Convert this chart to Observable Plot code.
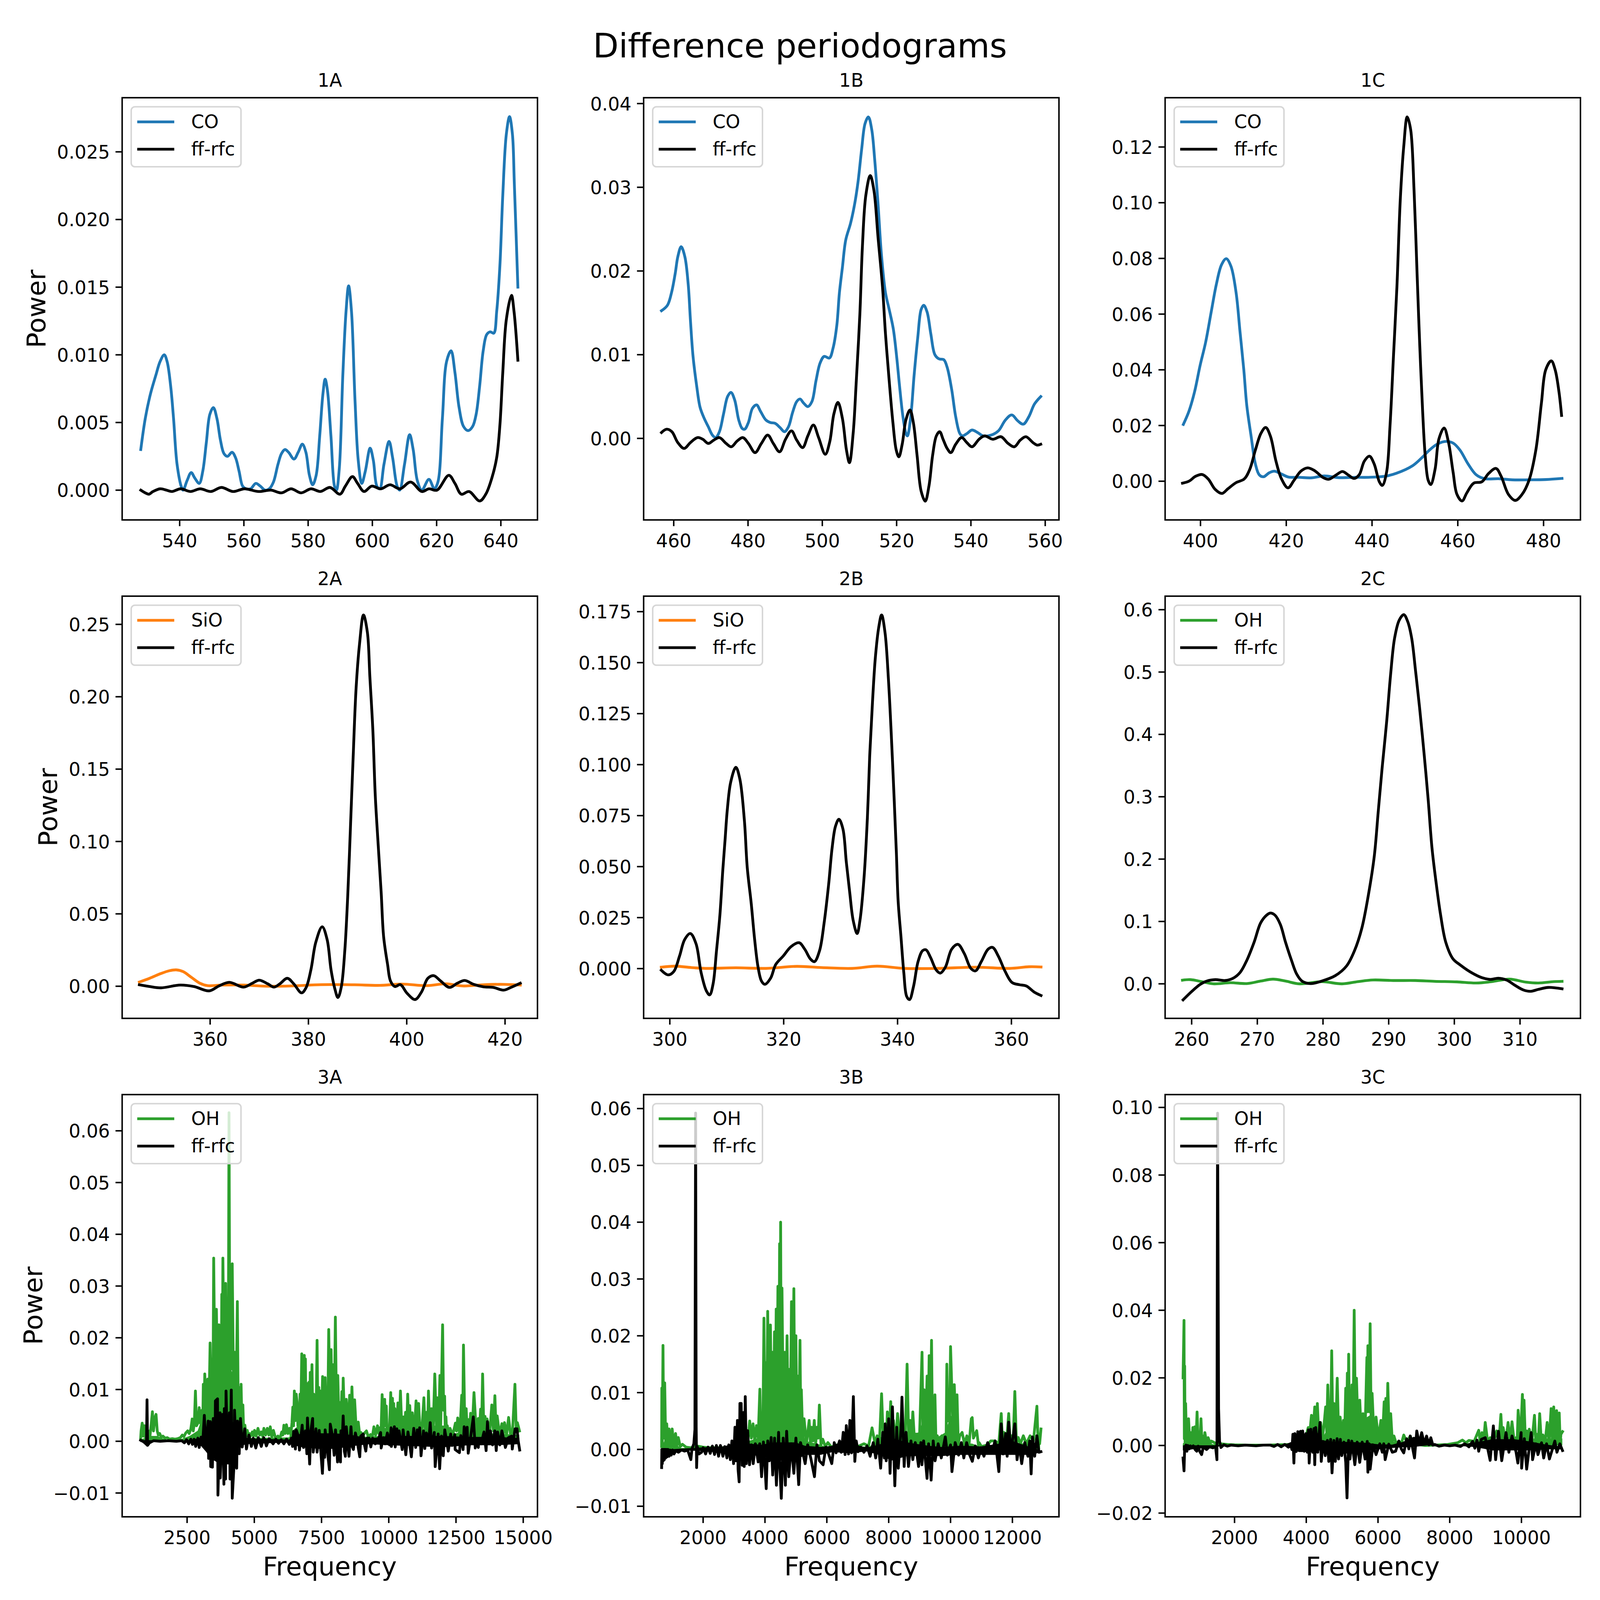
<!DOCTYPE html>
<html><head><meta charset="utf-8">
<script src="https://cdn.jsdelivr.net/npm/d3@7"></script>
<script src="https://cdn.jsdelivr.net/npm/@observablehq/plot@0.6"></script>
<style>
html,body{margin:0;padding:0;background:#fff;overflow:hidden;}
#page{position:relative;background:#fff;overflow:hidden;font-family:"DejaVu Sans";}
#title{position:absolute;left:0;text-align:center;color:#000;white-space:nowrap;}
.cell{position:absolute;}
</style></head><body>
<div id="page"><div id="title">Difference periodograms</div></div>
<script>
const CO="#1f77b4",SIO="#ff7f0e",OH="#2ca02c";

const co1A=[[527.9,.003],[529.3,.0053],[530.9,.0071],[532.6,.0085],[533.9,.0095],[535.2,.01],[536.1,.0095],[537.2,.0077],[538.1,.0053],[539.2,.0019],[540.6,.0002],[541.1,0],[542.3,.0007],[543.6,.0013],[544.7,.0009],[546.1,.0005],[547.2,.0014],[548.3,.0035],[549.4,.0056],[550.5,.0061],[551.6,.0053],[552.7,.0037],[553.8,.0027],[554.9,.0025],[556.3,.0028],[557.4,.0024],[558.5,.0014],[559.6,.0003],[560.7,.0001],[562.1,.0001],[563.7,.0005],[565.1,.0003],[566.6,0],[567.9,.0001],[569.2,.0006],[570.6,.0019],[571.7,.0027],[572.8,.003],[573.9,.0028],[575.6,.0023],[576.9,.0028],[578.2,.0034],[579.3,.0028],[580.4,.0011],[581.4,.0004],[582.5,.0011],[583.6,.004],[584.6,.0071],[585.3,.0082],[586,.0074],[587.1,.004],[588.2,.0003],[588.8,0],[589.7,.0016],[590.8,.0085],[591.8,.0132],[592.6,.0151],[593.5,.0132],[594.6,.0066],[595.6,.0022],[596.7,.0005],[597.8,.0014],[599.3,.0031],[600.3,.0022],[601.4,.0003],[602.3,.0001],[603.6,.0019],[605.2,.0036],[606.3,.0024],[607.7,.0003],[608.5,0],[610,.0019],[611.6,.0041],[612.7,.003],[614,.0007],[615.4,0],[617.6,.0008],[619.3,.0001],[620.4,.0006],[621.8,.0053],[623.1,.0095],[624.5,.0103],[625.7,.0087],[627,.0061],[628.4,.0047],[629.8,.0044],[631.2,.0047],[632.3,.0056],[633.4,.0077],[634.5,.0103],[635.6,.0115],[636.7,.0117],[637.8,.0116],[638.7,.0132],[639.7,.0166],[640.6,.0218],[641.7,.0263],[642.7,.0276],[643.6,.0263],[644.2,.0226],[645.3,.015]];
const ff1A=[[527.9,0],[529.3,-.0002],[530.4,-.0003],[531.7,-.0001],[533.9,.0001],[535.9,0],[537.6,-.0001],[540.3,.0001],[543.4,-.0001],[546.4,.0001],[549.7,-.0001],[553,.0002],[556.6,-.0001],[560.2,.0001],[564.6,-.0001],[568.4,0],[571.7,-.0002],[574.7,.0001],[577.8,-.0002],[580.9,.0001],[583.8,-.0001],[586.8,.0002],[589.9,-.0003],[591.6,.0003],[593.8,.001],[595.4,.0005],[597.4,-.0001],[599.8,.0003],[602.6,.0001],[605.5,.0004],[608.6,.0001],[611.9,.0006],[615.4,-.0001],[617.6,.0001],[620.1,0],[623.8,.0011],[625.7,.0005],[627.7,-.0003],[630.1,-.0001],[633.4,-.0008],[635.3,-.0003],[637.2,.0009],[638.7,.0024],[639.7,.0048],[640.6,.0087],[641.7,.0126],[643.3,.0144],[644.1,.0132],[645.3,.0096]];
const co1B=[[456.7,.01525],[458.3,.0159],[459.4,.0174],[460.4,.0197],[461.1,.0217],[462,.0229],[463,.0217],[463.9,.0184],[464.5,.0141],[465.2,.0098],[466.2,.0062],[467.1,.0037],[468.2,.0024],[469.3,.0014],[470.4,.0004],[471.3,.0001],[472.3,.0008],[473.4,.0029],[474.5,.005],[475.4,.0055],[476.4,.0046],[477.5,.0022],[478.4,.0012],[479.1,.0011],[480.1,.0019],[481.2,.0036],[482.3,.004],[483.4,.0032],[484.8,.0022],[486,.0019],[487.3,.0018],[488.6,.0013],[489.8,.0008],[490.9,.0014],[492,.0031],[493.1,.0044],[494,.0047],[495,.0042],[496.1,.0038],[497.2,.0044],[498.3,.0069],[499.4,.009],[500.5,.0098],[501.9,.0096],[502.9,.0108],[503.9,.0135],[504.6,.0174],[505.4,.0204],[506.3,.0237],[507.6,.0257],[508.7,.028],[509.6,.0306],[510.6,.0346],[511.5,.0376],[512.4,.0384],[513.3,.0369],[514.1,.0333],[515,.028],[515.9,.022],[517,.0174],[518,.0154],[519.1,.0131],[520,.0098],[520.8,.0062],[521.7,.0026],[522.5,.0006],[522.9,.0003],[523.8,.0026],[524.7,.0075],[525.7,.0121],[526.6,.0154],[527.3,.0159],[528.2,.0151],[529.2,.0125],[530.3,.01],[531.4,.0095],[532.7,.0094],[533.6,.0085],[534.8,.0059],[535.9,.0026],[537,.0006],[537.7,.0003],[539,.0006],[540.3,.001],[541.8,.0007],[543.3,.0003],[545.5,.0004],[547.4,.0009],[549.3,.0022],[551,.0028],[552.6,.0021],[554.1,.0017],[555.6,.0026],[557.1,.0041],[558.8,.005]];
const ff1B=[[456.7,.0007],[458.1,.0011],[459.5,.0008],[461.1,-.0005],[462.8,-.0012],[464.5,-.0005],[466.4,.0001],[467.8,-.0001],[469.3,-.0006],[470.8,-.0002],[472.3,.0001],[474.1,-.0006],[475.5,-.001],[477.1,-.0003],[478.6,.0001],[480.1,-.0006],[481.9,-.0017],[483.6,-.0006],[485.3,.0004],[486.8,-.0006],[488.5,-.0016],[490.1,-.0001],[491.7,.0009],[493.1,-.0002],[494.7,-.0011],[496.1,.0003],[497.6,.0016],[499,.0001],[500.8,-.0019],[502,-.0004],[503.1,.0029],[504.2,.0043],[505.4,.0024],[506.5,-.0014],[507.3,-.0029],[508.3,.0006],[509.1,.0065],[510.1,.0148],[510.8,.023],[511.7,.029],[512.9,.0314],[513.9,.0296],[515,.024],[516.2,.0181],[517,.0125],[518,.0069],[519,.0019],[519.9,-.0014],[520.6,-.0022],[521.5,-.0007],[522.5,.0022],[523.6,.0034],[524.5,.0019],[525.5,-.002],[526.6,-.0063],[527.7,-.0075],[528.7,-.0057],[529.7,-.002],[530.7,.0003],[531.6,.0008],[532.5,-.0001],[533.6,-.0012],[534.6,-.0017],[535.9,-.0007],[537.5,.0001],[538.9,-.0005],[540.3,-.001],[542.2,-.0001],[543.7,.0003],[545.9,-.0001],[548.1,.0002],[550,-.0006],[551.7,-.001],[553.3,-.0002],[554.8,.0002],[556.7,-.0005],[557.8,-.0008],[558.8,-.0007]];
const co1C=[[396,.0204],[397.3,.0251],[398.6,.032],[399.9,.0415],[401.2,.0499],[402.5,.0608],[403.7,.0707],[404.9,.0777],[406,.0799],[407.1,.0772],[408.3,.0677],[409.2,.0539],[410.1,.04],[410.8,.0271],[411.8,.0162],[412.8,.0062],[413.7,.0023],[414.7,.0016],[416,.003],[417.2,.0036],[418.6,.0028],[420.5,.0015],[423.1,.0014],[425.7,.0012],[428.9,.0019],[432.1,.0013],[436,.0014],[439.2,.0014],[443.1,.0018],[445.6,.0028],[449.5,.0056],[451.8,.0087],[453.4,.0112],[455.3,.0134],[457.3,.0143],[458.9,.0137],[460.5,.0112],[462.4,.0062],[464.3,.0023],[466.3,.0009],[469.5,.0009],[472.7,.0005],[476.6,.0005],[480.5,.0006],[484.3,.001]];
const ff1C=[[395.8,-.0007],[397.3,0],[398.9,.0018],[400.4,.0024],[401.8,.0008],[403.4,-.0029],[405,-.0044],[406.4,-.0027],[408.3,-.0005],[410.2,.0008],[411.5,.0043],[412.8,.0112],[414.1,.0172],[415.2,.0193],[416.3,.0162],[417.6,.0072],[418.9,.0008],[420.4,-.0024],[421.8,.0003],[423.4,.0036],[425,.0048],[426.6,.0038],[428.6,.0013],[429.9,.0007],[431.5,.0021],[433.1,.0035],[434.4,.0023],[435.8,.001],[437,.0023],[438.2,.0072],[439.4,.009],[440.5,.0062],[441.7,-.0002],[442.4,-.0015],[443.4,.0033],[444.2,.0201],[445,.0449],[445.8,.0697],[446.6,.1015],[447.4,.1203],[448.2,.1308],[449,.1263],[449.8,.1044],[450.5,.0747],[451.1,.0499],[451.8,.0251],[452.4,.0092],[453.1,.0003],[453.7,-.0012],[454.7,.0043],[455.6,.0152],[456.8,.0191],[457.8,.0142],[458.9,.0033],[459.8,-.0047],[461,-.0071],[462.1,-.0042],[463.7,-.0007],[465.6,-.0002],[467.2,.0028],[468.9,.0046],[470.1,.0018],[471.8,-.0047],[473.4,-.0069],[475,-.0047],[476.6,.0003],[478.2,.0112],[479.5,.0281],[480.5,.04],[481.8,.0432],[482.7,.04],[483.6,.032],[484.2,.0236]];
const sio2A=[[345.6,.0029],[347.7,.0055],[350,.0088],[351.7,.0107],[353.1,.0113],[354.5,.0101],[356.2,.0061],[357.9,.0021],[359.5,.0004],[362.4,.0008],[366.9,.0008],[371.4,0],[376.5,.0002],[382.6,.0011],[389.4,.001],[394.5,.0006],[399,.0015],[404.1,.0004],[408,.0017],[411.4,.0002],[415.9,.0011],[419.8,.0013],[423.1,.0008]];
const ff2A=[[345.6,.001],[347.7,-.0002],[350,-.0011],[353.9,.0008],[356.7,-.0002],[359.8,-.0032],[361.8,.0002],[363.9,.0027],[366.8,-.0006],[368.6,.0021],[370,.0042],[371.7,.0017],[373,-.0006],[374.2,.0017],[375.7,.0055],[377,.0017],[378.6,-.0046],[379.5,-.0011],[380.5,.0113],[381.5,.0304],[382.8,.0411],[383.8,.0323],[384.6,.0113],[385.4,-.0021],[386,-.0078],[386.7,-.0002],[387.4,.0246],[388,.0628],[388.6,.1144],[389.1,.1583],[389.7,.2061],[390.4,.2366],[391.2,.2565],[392,.2443],[392.5,.2137],[393.1,.1774],[393.6,.1316],[394.2,.0972],[394.8,.0647],[395.3,.0342],[396.1,.0151],[396.7,.0036],[397.6,-.0002],[398.7,.0011],[400.1,-.005],[401.7,-.0092],[403,-.004],[404.3,.0055],[405.5,.0073],[406.9,.0036],[408.7,-.0008],[410.3,.0021],[411.8,.004],[413.6,.0013],[415.6,-.0004],[417.6,-.0008],[419.7,-.0027],[421.2,-.0008],[423.1,.0021]];
const sio2B=[[298.5,.0007],[300.9,.0012],[303.8,.0005],[306.3,.0001],[311.6,.0004],[316.9,.0001],[322.3,.0011],[326.7,.0005],[332,.0001],[336.4,.0012],[341.2,.0001],[347,.0001],[353.8,.0007],[359.7,.0001],[363.1,.0009],[365.2,.0008]];
const ff2B=[[298.5,-.0008],[299.7,-.0031],[300.7,-.0014],[301.7,.0061],[302.6,.0142],[303.6,.0172],[304.6,.0122],[305.5,-.002],[306.4,-.0108],[307,-.0129],[307.6,-.0075],[308.2,.0088],[308.8,.0264],[309.3,.0481],[309.7,.063],[310.1,.078],[310.7,.0915],[311.6,.0987],[312.3,.0929],[313.1,.0725],[313.6,.0495],[314.3,.0319],[314.9,.0142],[315.5,.0007],[316.1,-.0061],[316.7,-.0077],[317.7,-.0047],[318.6,.002],[319.9,.0061],[321.3,.0108],[322.7,.0127],[323.7,.0095],[324.7,.0047],[325.4,.0034],[326.3,.0088],[327.1,.0224],[327.9,.0414],[328.5,.059],[329.1,.0698],[329.7,.0732],[330.4,.0685],[331,.0522],[331.6,.0373],[332.2,.0237],[332.9,.0172],[333.4,.0237],[334.1,.0441],[334.7,.0739],[335.1,.1037],[335.6,.1308],[336.1,.1525],[336.7,.1674],[337.2,.1734],[337.8,.1647],[338.4,.1417],[338.9,.1146],[339.4,.0834],[339.8,.0563],[340.1,.0332],[340.6,.0156],[341.1,-.002],[341.6,-.0136],[342.1,-.0152],[342.8,-.0088],[343.6,.0034],[344.4,.0088],[345,.0092],[345.8,.0054],[346.8,-.0007],[347.5,-.0022],[348.4,.0007],[349.5,.0095],[350.6,.0119],[351.7,.0075],[352.9,0],[353.7,-.0011],[354.7,.0034],[355.9,.0095],[356.7,.0104],[357.7,.0061],[358.9,-.0014],[360.1,-.0068],[361.4,-.0079],[362.6,-.0085],[364,-.0115],[365.2,-.0132]];
const oh2C=[[258.6,.0058],[259.8,.0067],[261.7,.0031],[263.4,0],[265.9,.0018],[268.4,.0004],[270.5,.0044],[272.4,.0075],[274.3,.0044],[276.4,0],[279.8,.0035],[282.9,0],[285.3,.0035],[287.6,.0062],[290.7,.0053],[294.1,.0053],[297,.004],[300.4,.0031],[303.3,.0013],[305.7,.0035],[308.4,.0075],[310.9,.0027],[312.8,.0013],[315.1,.0035],[316.4,.004]];
const ff2C=[[258.7,-.0257],[260,-.0124],[261.3,-.0009],[262.3,.0044],[263.6,.0067],[265.1,.0053],[266.3,.0089],[267.4,.0186],[268.4,.0377],[269.5,.0665],[270.5,.0976],[271.4,.11],[272,.1135],[272.7,.11],[273.5,.0953],[274.3,.0665],[275.2,.0377],[276,.0155],[276.8,.0044],[278.1,.0004],[279.8,.0044],[281.9,.0133],[283.6,.0288],[284.8,.0532],[285.9,.0887],[286.9,.1419],[287.8,.204],[288.4,.2749],[289,.3459],[289.7,.4213],[290.3,.4967],[290.9,.5543],[291.6,.5831],[292.3,.592],[292.9,.5809],[293.5,.5543],[294.1,.5011],[294.7,.4435],[295.4,.3681],[296,.2971],[296.6,.2173],[297.2,.1641],[297.9,.1109],[298.7,.0665],[299.8,.0399],[300.8,.031],[302.5,.0186],[304.2,.0098],[305.5,.0071],[306.7,.0089],[308,.0058],[309.2,-.0022],[310.5,-.0098],[311.6,-.012],[312.8,-.0089],[314.3,-.0058],[316.4,-.008]];
const oh3A=[[773,.0005],[790,.002],[830,.0035],[870,.001],[910,.003],[950,.0008],[1000,.0005],[1060,.002],[1120,.001],[1170,.0035],[1210,.0057],[1250,.002],[1300,.0045],[1345,.0052],[1390,.002],[1430,.0012],[1480,.0015],[1540,.0008],[1600,.001],[1680,.0006],[1760,.0007],[1850,.0004],[1950,.0005],[2050,.0004],[2150,.0005],[2250,.0007],[2320,.0012],[2380,.0009],[2450,.0016],[2520,.002],[2580,.0015],[2640,.0024],[2690,.0043],[2730,.002],[2770,.0035],[2810,.0097],[2850,.003],[2900,.0035],[2950,.0065],[3000,.0035],[3060,.006],[3080,.002],[3103,.011],[3130,.003],[3157,.013],[3210,.005],[3268,.012],[3310,.005],[3356,.019],[3395,.007],[3426,.0159],[3460,.006],[3489,.0354],[3540,.009],[3590,.0255],[3640,.008],[3685,.0225],[3720,.009],[3749,.0203],[3770,.009],[3790,.0284],[3810,.012],[3831,.0354],[3880,.012],[3932,.0305],[3960,.012],[3989,.0213],[4030,.01],[4059,.0635],[4090,.012],[4116,.0297],[4150,.014],[4179,.0343],[4230,.008],[4274,.0172],[4320,.006],[4369,.027],[4405,.004],[4438,.0104],[4470,.003],[4508,.011],[4545,.002],[4575,.007],[4610,.0008],[4650,.0031],[4695,.001],[4739,.0021],[4780,.0009],[4818,.0015],[4860,.001],[4925,.0018],[4970,.001],[5008,.0021],[5070,.001],[5135,.0025],[5200,.0012],[5261,.0018],[5310,.001],[5356,.0025],[5420,.0012],[5482,.0025],[5540,.0012],[5593,.0028],[5650,.0008],[5710,.0021],[5790,.0006],[5878,.001],[5950,.0005],[6020,.0018],[6060,.0012],[6100,.0031],[6150,.0015],[6195,.0032],[6250,.0015],[6305,.0025],[6360,.0012],[6400,.0036],[6432,.0066],[6460,.003],[6489,.0097],[6525,.004],[6558,.0091],[6590,.0076],[6620,.003],[6653,.0047],[6680,.002],[6700,.0091],[6730,.005],[6764,.0169],[6810,.006],[6859,.0166],[6880,.008],[6900,.0159],[6920,.005],[6938,.0112],[6985,.004],[7033,.0114],[7060,.005],[7080,.0133],[7110,.005],[7144,.0148],[7175,.004],[7207,.0091],[7230,.004],[7254,.0085],[7295,.004],[7334,.0195],[7365,.004],[7397,.0104],[7430,.003],[7460,.0097],[7500,.004],[7539,.0125],[7590,.004],[7634,.0123],[7665,.004],[7697,.0087],[7730,.004],[7767,.0216],[7810,.006],[7856,.0177],[7890,.005],[7919,.0148],[7944,.006],[7980,.008],[8014,.024],[8060,.004],[8104,.0127],[8150,.003],[8194,.0075],[8225,.003],[8255,.0096],[8280,.003],[8305,.0122],[8360,.0027],[8420,.0081],[8480,.002],[8545,.0089],[8590,.003],[8630,.0105],[8680,.0022],[8730,.008],[8800,.0012],[8866,.0037],[8920,.0012],[8970,.0017],[9030,.001],[9100,.0016],[9170,.002],[9240,.0008],[9322,.0013],[9390,.0009],[9447,.0028],[9510,.0012],[9582,.003],[9630,.0015],[9672,.0026],[9710,.0012],[9753,.009],[9800,.002],[9848,.0081],[9880,.003],[9908,.0068],[9940,.0012],[9973,.0027],[10020,.0012],[10073,.0094],[10105,.003],[10138,.0083],[10160,.003],[10183,.0073],[10205,.003],[10224,.0063],[10280,.001],[10339,.0074],[10385,.002],[10434,.0097],[10490,.0015],[10549,.0047],[10590,.002],[10624,.0056],[10660,.0015],[10704,.0091],[10745,.002],[10780,.0069],[10830,.0015],[10875,.0055],[10945,.001],[11015,.0078],[11065,.0015],[11110,.0073],[11170,.0012],[11230,.002],[11306,.0084],[11350,.002],[11400,.0056],[11440,.001],[11476,.0097],[11530,.0012],[11591,.0063],[11650,.002],[11711,.013],[11770,.003],[11800,.0084],[11850,.002],[11902,.0127],[11927,.0017],[12002,.0225],[12040,.006],[12077,.0087],[12100,.002],[12127,.0047],[12150,.002],[12177,.003],[12230,.0013],[12278,.0025],[12380,.0012],[12478,.0035],[12520,.002],[12563,.0045],[12640,.0012],[12713,.0089],[12745,.0017],[12778,.0186],[12830,.002],[12879,.0063],[12915,.002],[12954,.0042],[13000,.002],[13044,.0054],[13100,.002],[13169,.0094],[13260,.0012],[13330,.0044],[13375,.002],[13415,.0062],[13450,.002],[13490,.013],[13535,.002],[13580,.0048],[13620,.0015],[13655,.0043],[13750,.0014],[13831,.007],[13890,.002],[13946,.0088],[13990,.002],[14031,.0049],[14120,.0012],[14206,.0034],[14260,.0015],[14306,.0036],[14380,.0012],[14457,.0046],[14530,.0012],[14600,.0017],[14692,.011],[14740,.002],[14782,.0036],[14860,.002]];
const ff3A=[[773,.0002],[850,0],[930,-.0003],[990,-.0006],[1010,.008],[1030,-.0008],[1100,-.0003],[1250,.0001],[1500,0],[1800,.0001],[2100,0],[2300,.0001],[2400,-.0003],[2480,.0003],[2560,-.0005],[2640,.0004],[2700,-.0006],[2760,.0004],[2820,-.001],[2900,.0006],[2950,-.0012],[3020,.0008],[3080,-.0005],[3141,.005],[3204,-.0015],[3284,.0039],[3300,-.0033],[3363,.0038],[3378,-.0049],[3442,-.005],[3473,.0044],[3537,-.0035],[3553,.0078],[3632,.0082],[3647,-.0104],[3727,.0055],[3733,-.0071],[3821,.0052],[3869,-.0083],[3885,.0063],[3932,-.0073],[3948,.0097],[4010,-.004],[4075,.0055],[4097,-.0073],[4144,.0099],[4179,-.011],[4249,-.0042],[4264,.006],[4344,-.0052],[4375,.0039],[4438,-.0024],[4486,.0044],[4550,-.0011],[4644,.0024],[4707,-.0015],[4800,.0012],[4890,-.001],[4960,.0006],[5055,-.0013],[5150,.0007],[5260,-.001],[5350,.0007],[5450,-.0009],[5550,.0005],[5700,-.0005],[5800,.0004],[5900,-.0004],[6000,.0003],[6100,-.0005],[6200,.0004],[6300,-.0006],[6380,.0006],[6420,-.001],[6464,.0019],[6527,-.0015],[6558,.0022],[6640,.001],[6679,-.0017],[6780,.0031],[6830,-.0012],[6900,.002],[6954,-.0024],[6976,.0045],[7058,-.0044],[7100,.002],[7169,.0044],[7191,-.0021],[7292,.0024],[7334,-.0021],[7413,.0021],[7533,-.0062],[7590,.001],[7618,-.0031],[7634,.0022],[7700,-.001],[7792,-.0055],[7824,.0033],[7900,.0012],[7969,-.0027],[8019,.0022],[8060,-.001],[8094,-.004],[8120,.0012],[8204,-.004],[8220,.002],[8260,-.001],[8305,.0049],[8350,-.002],[8385,-.0029],[8420,.0028],[8480,-.001],[8520,-.0029],[8595,.0028],[8640,-.001],[8685,-.0016],[8760,.0016],[8840,-.0005],[8921,-.003],[8960,.001],[9046,.0014],[9100,-.0008],[9146,-.0019],[9200,.0006],[9270,.0006],[9332,-.0011],[9400,.0006],[9500,-.0005],[9620,.0005],[9697,.0017],[9718,-.0013],[9800,.0007],[9860,-.0005],[9948,.0016],[10030,-.0007],[10088,.0026],[10098,-.001],[10208,.0028],[10240,-.0011],[10299,.0024],[10340,-.0005],[10384,.002],[10499,-.0016],[10534,.0022],[10634,-.0026],[10714,.0018],[10780,-.0005],[10840,-.003],[10930,.0025],[11000,-.0012],[11060,.0022],[11100,-.0005],[11150,.0026],[11200,-.0028],[11291,.002],[11341,-.0014],[11400,.0016],[11480,-.0005],[11541,.0036],[11591,-.0013],[11692,.0017],[11726,-.0049],[11837,.0014],[11892,-.0053],[11960,.001],[12027,-.0028],[12082,.0022],[12213,-.0019],[12303,.0014],[12360,-.0008],[12453,.0013],[12468,-.0016],[12628,-.0022],[12679,.0011],[12764,-.0016],[12804,.0028],[12860,-.0005],[12914,.0027],[12954,-.0023],[13050,.001],[13144,.0047],[13215,-.0013],[13260,.0004],[13330,-.0012],[13355,.0005],[13440,-.0005],[13540,.0018],[13620,-.0018],[13670,.0038],[13720,-.0005],[13781,.002],[13860,-.0007],[13941,.002],[13996,-.0018],[14046,.0018],[14130,-.0007],[14206,.002],[14337,-.0012],[14450,.0007],[14567,.001],[14593,-.0015],[14698,.0024],[14770,.0024],[14810,.0002],[14868,-.0017]];
const oh3B=[[659,.0005],[665,.0108],[680,.001],[703,.0183],[725,.002],[758,.0117],[790,.001],[824,.0045],[860,.001],[901,.0036],[950,.0008],[1000,.0036],[1050,.0008],[1110,.0028],[1150,.0006],[1198,.0021],[1260,.0005],[1330,.0009],[1450,.0004],[1600,.0003],[1800,.0006],[2000,.0004],[2200,.0003],[2500,.0003],[2800,.0003],[3000,.0005],[3200,.001],[3350,.002],[3450,.0015],[3506,.005],[3560,.002],[3615,.0045],[3670,.0015],[3725,.0042],[3780,.002],[3835,.0106],[3860,.003],[3890,.0063],[3930,.002],[3967,.0231],[4000,.003],[4033,.0153],[4060,.004],[4088,.0243],[4130,.004],[4176,.0219],[4210,.005],[4242,.0171],[4275,.005],[4308,.0207],[4335,.006],[4363,.0247],[4390,.007],[4418,.0287],[4450,.008],[4473,.0362],[4490,.01],[4506,.04],[4525,.008],[4550,.0284],[4595,.004],[4638,.0171],[4675,.004],[4714,.02],[4750,.005],[4780,.0141],[4820,.004],[4857,.026],[4890,.006],[4934,.0283],[4965,.005],[5000,.02],[5030,.004],[5066,.0129],[5100,.004],[5132,.0192],[5160,.003],[5176,.0105],[5220,.002],[5264,.0054],[5340,.001],[5429,.0051],[5470,.001],[5506,.0039],[5550,.0015],[5594,.0051],[5640,.001],[5682,.0039],[5720,.002],[5758,.0078],[5810,.0008],[5868,.0018],[5950,.0005],[6033,.0012],[6150,.0004],[6300,.0008],[6500,.0006],[6800,.0008],[7000,.0005],[7200,.001],[7350,.0006],[7462,.0038],[7560,.001],[7627,.0024],[7700,.0012],[7770,.0098],[7830,.001],[7858,.0027],[7920,.001],[7957,.0066],[8010,.002],[8066,.0084],[8110,.001],[8154,.0051],[8220,.001],[8287,.0063],[8370,.001],[8452,.0039],[8530,.001],[8595,.015],[8650,.001],[8694,.0051],[8740,.002],[8780,.0066],[8840,.001],[8890,.0027],[8990,.001],[9078,.0171],[9110,.003],[9144,.0105],[9195,.003],[9242,.0129],[9275,.003],[9308,.0165],[9345,.004],[9385,.0192],[9415,.003],[9440,.0075],[9470,.003],[9495,.0096],[9530,.001],[9572,.0024],[9640,.001],[9715,.0024],[9770,.001],[9825,.0015],[9855,.001],[9880,.015],[9910,.005],[9935,.0051],[9970,.005],[10000,.0181],[10045,.0099],[10080,.004],[10121,.0114],[10165,.004],[10209,.0096],[10250,.001],[10297,.0024],[10373,.003],[10450,.001],[10528,.0024],[10600,.001],[10671,.0054],[10700,.0056],[10740,.002],[10846,.0033],[10900,.0008],[10923,.0012],[11000,.0005],[11198,.0008],[11300,.0015],[11440,.0015],[11560,.001],[11639,.0063],[11680,.001],[11727,.003],[11800,.0005],[11880,.0063],[11930,.001],[11968,.0024],[12020,.0005],[12078,.0102],[12130,.001],[12188,.0021],[12260,.001],[12353,.0024],[12450,.001],[12572,.0024],[12680,.0015],[12792,.0076],[12830,.001],[12850,.0027],[12880,.001],[12923,.0036]];
const ff3B=[[659,-.0032],[665,0],[680,-.0025],[695,0],[710,-.002],[725,0],[745,-.0018],[765,0],[790,-.0015],[810,0],[840,-.0013],[865,0],[900,-.0012],[930,-.0001],[970,-.001],[1010,-.0001],[1060,-.0008],[1120,-.0002],[1200,-.0005],[1300,-.0001],[1400,-.0003],[1500,-.0001],[1604,-.0018],[1640,.0001],[1700,.001],[1735,.0035],[1758,.0592],[1776,.004],[1790,-.0032],[1810,.0005],[1870,-.0008],[1950,-.0005],[2000,.0003],[2080,-.0008],[2160,.0004],[2230,-.0007],[2300,.0006],[2370,-.0009],[2430,.0007],[2500,-.0012],[2560,.0007],[2640,-.0012],[2700,.0005],[2770,-.0015],[2830,.0008],[2880,-.0018],[2930,.0015],[2985,-.0025],[3030,.0039],[3060,-.002],[3110,.0051],[3130,-.0035],[3165,-.0057],[3190,.0081],[3231,.0081],[3265,-.0028],[3305,.0065],[3330,-.003],[3363,.0093],[3400,-.0025],[3440,.0033],[3500,-.0027],[3560,.0008],[3620,-.0025],[3690,.001],[3780,-.0022],[3830,.001],[3890,-.0048],[3950,.0013],[4000,-.003],[4040,-.0069],[4090,.0015],[4140,-.002],[4200,.0021],[4250,-.0045],[4310,.002],[4370,-.0063],[4440,.003],[4480,-.003],[4528,-.0086],[4590,.002],[4660,-.0063],[4700,.0032],[4770,-.0048],[4850,.001],[4934,-.0042],[5000,.002],[5090,-.0062],[5150,.0012],[5300,-.0025],[5380,.0008],[5480,-.0015],[5600,-.0048],[5680,.0008],[5760,-.002],[5880,-.0027],[5970,.0004],[6050,-.0007],[6160,-.0025],[6240,.0012],[6300,-.0006],[6410,.0015],[6470,-.0005],[6530,.003],[6590,-.0009],[6630,.0042],[6700,-.0008],[6745,.0051],[6800,-.0006],[6858,.0093],[6905,-.0021],[6950,.0015],[7010,-.0004],[7100,.0004],[7200,-.0005],[7300,.0006],[7400,-.0012],[7500,.0012],[7580,-.0015],[7650,.0018],[7740,-.0033],[7810,.003],[7860,-.0015],[7890,.0045],[7920,-.002],[8000,.0054],[8044,-.0042],[8121,.0075],[8198,-.0064],[8260,.0039],[8310,-.0033],[8400,.0039],[8429,.0092],[8500,-.003],[8560,.003],[8640,-.003],[8720,.0015],[8780,-.0018],[8860,.0012],[8966,-.003],[9040,.0012],[9075,-.0027],[9130,.0015],[9240,-.0051],[9290,.001],[9372,-.0054],[9440,.0015],[9500,-.002],[9600,.001],[9700,-.0015],[9830,.0022],[9900,-.001],[10000,.0008],[10045,-.0039],[10150,.0012],[10260,-.001],[10350,.0012],[10429,-.0015],[10520,.0012],[10620,-.001],[10704,-.0021],[10800,.0006],[10900,-.0015],[10990,.0002],[11080,-.0012],[11200,.0012],[11330,-.0006],[11440,.0015],[11500,-.001],[11561,-.0039],[11638,.0045],[11700,-.0008],[11780,.0028],[11830,-.0012],[11880,.0048],[11950,-.0005],[12020,.0022],[12078,.0045],[12150,-.0018],[12220,.0008],[12300,-.0025],[12400,.0012],[12500,-.0012],[12560,.0015],[12606,-.0043],[12650,.0022],[12720,-.0012],[12792,.0024],[12860,-.0005],[12923,-.0004]];
const oh3C=[[564,.02],[591,.037],[600,.002],[609,.0235],[620,.001],[636,.0124],[660,.001],[672,.0063],[695,.001],[718,.0079],[750,.001],[782,.0038],[815,.001],[837,.0053],[860,.001],[892,.0055],[925,.001],[955,.0099],[985,.001],[1018,.0028],[1040,.0008],[1064,.0079],[1090,.001],[1118,.0028],[1150,.001],[1173,.0038],[1220,.0008],[1264,.0023],[1320,.0006],[1355,.0013],[1500,.0005],[1600,.0005],[1800,.0003],[2000,.0002],[2400,.0001],[2800,.0001],[3200,.0002],[3500,.0003],[3700,.0006],[3800,.001],[3900,.002],[3963,.0015],[4054,.0053],[4090,.003],[4145,.0089],[4190,.004],[4236,.0114],[4270,.004],[4309,.0124],[4350,.003],[4400,.0068],[4450,.002],[4500,.0067],[4540,.0114],[4570,.004],[4600,.0179],[4640,.004],[4654,.0114],[4680,.004],[4709,.028],[4740,.004],[4773,.0124],[4820,.003],[4863,.0199],[4905,.002],[4945,.0084],[4990,.002],[5036,.0074],[5070,.003],[5100,.0169],[5125,.004],[5145,.0214],[5165,.005],[5182,.027],[5205,.005],[5227,.0154],[5250,.005],[5273,.0179],[5305,.006],[5336,.04],[5370,.006],[5400,.0199],[5445,.004],[5491,.0134],[5535,.003],[5581,.0094],[5640,.004],[5690,.026],[5705,.01],[5718,.0295],[5750,.01],[5781,.036],[5810,.005],[5836,.0154],[5890,.002],[5945,.0084],[6010,.002],[6081,.0074],[6125,.002],[6172,.0129],[6195,.004],[6218,.0139],[6245,.004],[6273,.0184],[6315,.002],[6354,.0094],[6400,.001],[6445,.0028],[6510,.0005],[6581,.0013],[6650,.0005],[6718,.0031],[6800,.001],[6900,.0028],[6970,.0005],[7036,.0018],[7170,.0002],[7309,0],[7581,.0001],[7945,.0003],[8218,.0008],[8354,.0016],[8450,.0008],[8536,.0015],[8680,.0012],[8808,.0045],[8850,.001],[8899,.0038],[8945,.001],[8990,.0068],[9060,.001],[9127,.0023],[9220,.001],[9309,.0043],[9370,.001],[9427,.0092],[9460,.002],[9490,.0053],[9560,.001],[9627,.0068],[9680,.001],[9736,.007],[9800,.001],[9854,.0023],[9880,.001],[9908,.0104],[9970,.001],[10027,.0151],[10050,.002],[10072,.0134],[10110,.001],[10145,.0043],[10180,.001],[10218,.0048],[10290,.001],[10363,.0089],[10400,.001],[10435,.0033],[10470,.001],[10508,.0094],[10555,.001],[10599,.0031],[10660,.001],[10717,.0068],[10770,.001],[10827,.0109],[10860,.002],[10900,.0114],[10940,.001],[10981,.0103],[11020,.001],[11054,.0096],[11080,.0005],[11100,.0033],[11145,.0041]];
const ff3C=[[564,-.0037],[591,-.0075],[609,-.0007],[645,.0001],[673,-.0017],[700,0],[740,-.001],[770,-.0001],[809,-.0007],[850,-.0001],[900,-.0012],[945,-.0017],[985,-.0002],[1030,-.0018],[1082,-.0027],[1130,-.0004],[1218,-.0012],[1300,-.0004],[1400,-.0007],[1470,-.0003],[1509,-.0042],[1527,.0983],[1555,.0109],[1582,.0013],[1620,-.0006],[1700,.0002],[1800,-.0002],[1900,.0001],[2100,-.0001],[2300,.0001],[2600,-.0001],[2800,.0001],[3000,.0001],[3100,-.0003],[3200,.0003],[3300,-.0004],[3400,.0003],[3500,-.0005],[3560,.0005],[3600,-.0012],[3627,.0033],[3655,-.0052],[3680,.0035],[3720,-.0018],[3764,.0041],[3809,-.0012],[3840,.0042],[3870,-.0015],[3900,.0043],[3945,-.0017],[3990,.0035],[4030,-.002],[4060,.0046],[4081,-.0052],[4127,.0048],[4180,-.002],[4215,.005],[4236,-.0057],[4263,.0053],[4320,-.002],[4382,.0068],[4418,-.0047],[4470,.0012],[4530,-.003],[4590,.0015],[4627,-.0047],[4680,.0018],[4718,-.0081],[4770,.0015],[4809,-.0047],[4860,.002],[4900,-.004],[4950,.0018],[4990,-.003],[5050,.001],[5100,-.005],[5136,-.0155],[5180,.0015],[5218,-.004],[5270,.0013],[5354,-.0057],[5420,.001],[5491,-.005],[5560,.001],[5640,-.004],[5700,.0012],[5718,-.0079],[5750,.0005],[5781,-.007],[5860,.0002],[5945,-.0027],[6050,.0005],[6120,-.002],[6160,.0005],[6200,-.0042],[6300,.0004],[6400,-.002],[6491,-.0017],[6581,.0013],[6650,-.001],[6718,-.0022],[6800,.002],[6860,-.001],[6900,.0028],[6960,-.0005],[7018,-.0037],[7081,.0043],[7150,.0005],[7218,.0038],[7290,.0005],[7354,.0028],[7420,.0002],[7472,.0023],[7530,.0001],[7581,.0003],[7700,-.0002],[7850,.0001],[8000,-.0001],[8150,.0001],[8300,-.0003],[8420,.0005],[8536,-.0004],[8640,.0012],[8700,-.0008],[8760,.0016],[8808,-.0017],[8880,.0018],[8990,.0023],[9060,-.001],[9127,-.0044],[9217,.0058],[9280,-.0042],[9360,.0042],[9450,-.0045],[9570,.0038],[9650,-.002],[9736,.0028],[9850,-.002],[9900,-.0052],[9990,.0038],[10005,-.0067],[10080,.002],[10145,-.007],[10272,.0038],[10310,-.0042],[10400,.0005],[10460,-.0027],[10560,.0008],[10620,-.0037],[10700,.0005],[10780,-.004],[10930,.0013],[10990,-.002],[11070,.0005],[11145,-.0015]];

// Solid bodies of the row-3 spectra: x, power the green fill reaches
const ohBody3A=[[773,.0003],[1150,.001],[1400,.001],[1700,.0003],[2300,.0004],[2600,.001],[2900,.002],[3100,.005],[3300,.009],[3450,.014],[3700,.016],[4000,.016],[4200,.013],[4330,.007],[4500,.002],[4650,.0006],[6300,.0007],[6420,.002],[6650,.003],[6760,.006],[7000,.008],[7400,.008],[7900,.009],[8100,.006],[8600,.005],[8800,.002],[9000,.0008],[9700,.001],[9800,.0025],[10500,.0028],[11300,.0022],[11700,.003],[12100,.003],[12300,.0012],[12700,.0018],[13200,.002],[13800,.0015],[14860,.0012]];
const ohBody3B=[[659,.0003],[800,.002],[1000,.0012],[1300,.0002],[3300,.0004],[3500,.0015],[3800,.002],[3950,.006],[4100,.01],[4500,.013],[4900,.012],[5150,.007],[5300,.0015],[5800,.0008],[6000,.0003],[7400,.0005],[7700,.002],[8100,.003],[8600,.0025],[9000,.003],[9150,.006],[9450,.006],[9550,.002],[9850,.003],[10000,.006],[10200,.005],[10300,.001],[10700,.001],[11000,.0004],[11500,.0005],[11700,.0012],[12200,.001],[12900,.0012]];
const ohBody3C=[[564,.0005],[800,.003],[1100,.002],[1400,.0003],[3600,.0002],[4000,.002],[4300,.003],[4500,.003],[4650,.006],[5000,.006],[5200,.009],[5500,.007],[5800,.009],[6000,.004],[6300,.004],[6450,.001],[6800,.0012],[7100,.0006],[7400,.0001],[8400,.0004],[8800,.0012],[9300,.0012],[9800,.002],[10200,.002],[10800,.002],[11145,.002]];
// Solid bodies of the black spectra: x, lower power, upper power
const ffBody3A=[[773,-.0002,.0002],[2300,-.0001,.0001],[2600,-.0004,.0002],[3000,-.0008,.0006],[3200,-.002,.002],[3350,-.003,.0035],[3700,-.0045,.0045],[4100,-.0045,.0045],[4300,-.003,.003],[4500,-.001,.0015],[4700,-.0006,.0005],[5500,-.0004,.0004],[6300,-.0003,.0003],[6450,-.0008,.001],[6800,-.0012,.0015],[7400,-.0015,.0015],[8000,-.0015,.0015],[8600,-.001,.0012],[9300,-.0006,.0005],[10000,-.0008,.001],[11000,-.001,.001],[12000,-.0012,.001],[13000,-.0008,.0008],[14000,-.0008,.0008],[14860,-.0006,.0006]];
const ffBody3B=[[659,-.0012,0],[1000,-.0006,0],[1300,-.0002,.0001],[1900,-.0003,.0003],[2700,-.0006,.0005],[2950,-.001,.001],[3100,-.002,.003],[3300,-.002,.004],[3450,-.001,.001],[3900,-.0012,.0008],[4300,-.002,.0012],[5000,-.002,.0012],[5300,-.001,.0006],[5800,-.001,.0004],[6200,-.0005,.0006],[6700,-.0007,.002],[6900,-.0006,.0008],[7300,-.0004,.0003],[7700,-.001,.0008],[8100,-.002,.002],[8600,-.0012,.0012],[9300,-.0012,.0006],[9700,-.0012,.0004],[10300,-.001,.0006],[11000,-.001,.0005],[11600,-.001,.001],[12000,-.001,.0015],[12500,-.001,.0005],[12923,-.0006,-.0002]];
const ffBody3C=[[564,-.0015,0],[1000,-.001,0],[1450,-.0006,0],[1650,-.0002,.0001],[3400,-.0002,.0002],[3600,-.001,.001],[3800,-.002,.0032],[4300,-.002,.004],[4450,-.001,.0015],[4800,-.0022,.001],[5200,-.0025,.001],[5600,-.002,.0008],[6000,-.0012,.0003],[6400,-.0008,.0002],[6700,-.0006,.001],[7000,-.0005,.0025],[7400,0,.0015],[7600,-.0001,.0001],[8300,-.0002,.0002],[8700,-.0005,.0008],[9200,-.0015,.0018],[9800,-.0015,.0018],[10200,-.0015,.0012],[10700,-.0012,.0002],[11145,-.0012,-.0004]];

const panels=[
 {name:"1A",row:0,col:0,sp:"CO",color:CO,a:co1A,b:ff1A,xd:[522.1,651.4],yd:[-.0022,.029],xt:[540,560,580,600,620,640],yt:[0,.005,.01,.015,.02,.025],yf:".3f",smooth:true,ylab:383},
 {name:"1B",row:0,col:1,sp:"CO",color:CO,a:co1B,b:ff1B,xd:[451.9,563.7],yd:[-.00974,.0407],xt:[460,480,500,520,540,560],yt:[0,.01,.02,.03,.04],yf:".2f",smooth:true},
 {name:"1C",row:0,col:2,sp:"CO",color:CO,a:co1C,b:ff1C,xd:[391.75,488.6],yd:[-.0139,.1377],xt:[400,420,440,460,480],yt:[0,.02,.04,.06,.08,.1,.12],yf:".2f",smooth:true},
 {name:"2A",row:1,col:0,sp:"SiO",color:SIO,a:sio2A,b:ff2A,xd:[342.1,426.6],yd:[-.0222,.2695],xt:[360,380,400,420],yt:[0,.05,.1,.15,.2,.25],yf:".2f",smooth:true,ylab:330},
 {name:"2B",row:1,col:1,sp:"SiO",color:SIO,a:sio2B,b:ff2B,xd:[295.4,368.35],yd:[-.0244,.1826],xt:[300,320,340,360],yt:[0,.025,.05,.075,.1,.125,.15,.175],yf:".3f",smooth:true},
 {name:"2C",row:1,col:2,sp:"OH",color:OH,a:oh2C,b:ff2C,xd:[255.96,319.2],yd:[-.0554,.6217],xt:[260,270,280,290,300,310],yt:[0,.1,.2,.3,.4,.5,.6],yf:".1f",smooth:true},
 {name:"3A",row:2,col:0,sp:"OH",color:OH,a:oh3A,b:ff3A,ab:ohBody3A,bb:ffBody3A,xd:[85,15530],yd:[-.0146,.067],xt:[2500,5000,7500,10000,12500,15000],yt:[-.01,0,.01,.02,.03,.04,.05,.06],yf:".2f",xlab:true,ylab:398},
 {name:"3B",row:2,col:1,sp:"OH",color:OH,a:oh3B,b:ff3B,ab:ohBody3B,bb:ffBody3B,xd:[77,13505],yd:[-.01186,.06246],xt:[2000,4000,6000,8000,10000,12000],yt:[-.01,0,.01,.02,.03,.04,.05,.06],yf:".2f",xlab:true},
 {name:"3C",row:2,col:2,sp:"OH",color:OH,a:oh3C,b:ff3C,ab:ohBody3C,bb:ffBody3C,xd:[64,11645],yd:[-.0211,.1038],xt:[2000,4000,6000,8000,10000],yt:[-.02,0,.02,.04,.06,.08,.1],yf:".2f",xlab:true}
];

// The chart is laid out on a 7200 grid and fitted to the actual window.
const S=Math.min(window.innerWidth,window.innerHeight)/7200;
const ML=540*S,MT=140*S,MR=70*S,MB=320*S,FW=1869*S,FH=1900*S;
const LEFT=[549.3,2894.8,5242.3].map(v=>v*S),TOP=[439.3,2682.4,4925.5].map(v=>v*S);
const LW=12.5*S,SPINE=6.67*S,TICK=29*S,FS=83.3*S,LABEL=116.7*S;

const page=document.getElementById("page");
page.style.width=page.style.height=(7200*S)+"px";
const title=document.getElementById("title");
title.style.width=(7200*S)+"px";
title.style.top=(118*S)+"px";
title.style.fontSize=(150*S)+"px";
title.style.lineHeight=(180*S)+"px";

function legend(p){
  return ()=>{
    const g=d3.create("svg:g").attr("transform",`translate(${ML},${MT})`);
    g.append("rect").attr("x",41.7*S).attr("y",41.7*S).attr("width",494*S).attr("height",270*S).attr("rx",16.7*S)
     .attr("fill","white").attr("fill-opacity",0.8).attr("stroke","#d6d6d6").attr("stroke-width",SPINE);
    [[p.sp,p.color,109.7,137],["ff-rfc","#000",232.7,260.7]].forEach(([t,c,ly,ty])=>{
      g.append("line").attr("x1",68.7*S).attr("x2",235.4*S).attr("y1",ly*S).attr("y2",ly*S).attr("stroke",c).attr("stroke-width",LW);
      g.append("text").attr("x",311.7*S).attr("y",ty*S).attr("font-size",FS).attr("text-anchor","start").attr("fill","#000").attr("font-family","DejaVu Sans").text(t);
    });
    return g.node();
  };
}

for(const p of panels){
  const curve=p.smooth?"catmull-rom":"linear";
  const lineOpts=(stroke)=>({x:d=>d[0],y:d=>d[1],stroke,strokeWidth:LW,curve,strokeLinejoin:"round",strokeLinecap:"square"});
  const marks=[];
  if(p.ab) marks.push(Plot.areaY(p.ab,{x:d=>d[0],y1:0,y2:d=>d[1],fill:p.color}));
  marks.push(Plot.line(p.a,lineOpts(p.color)));
  if(p.bb) marks.push(Plot.areaY(p.bb,{x:d=>d[0],y1:d=>d[1],y2:d=>d[2],fill:"#000"}));
  marks.push(
    Plot.line(p.b,lineOpts("#000")),
    legend(p),
    Plot.frame({stroke:"#000",strokeWidth:SPINE}),
    Plot.axisX({ticks:p.xt,tickFormat:d3.format("d"),tickSize:TICK,tickPadding:34*S,fontSize:FS,strokeWidth:SPINE,label:null}),
    Plot.axisY({ticks:p.yt,tickSize:TICK,strokeWidth:SPINE,fill:"none",label:null,tickFormat:()=>""}),
    Plot.axisY({ticks:p.yt,tickFormat:d3.format(p.yf),tickSize:TICK,tickPadding:26*S,fontSize:FS,stroke:"none",dy:4*S,label:null}),
    Plot.text([p.name],{frameAnchor:"top",dy:-109*S,fontSize:FS,fill:"#000"})
  );
  if(p.xlab) marks.push(Plot.text(["Frequency"],{frameAnchor:"bottom",dy:263*S,fontSize:LABEL,fill:"#000"}));
  if(p.ylab) marks.push(Plot.text(["Power"],{frameAnchor:"left",textAnchor:"middle",dx:-p.ylab*S,rotate:-90,fontSize:LABEL,fill:"#000"}));
  const svg=Plot.plot({
    width:ML+FW+MR,height:MT+FH+MB,marginLeft:ML,marginTop:MT,marginRight:MR,marginBottom:MB,
    x:{domain:p.xd,axis:null},y:{domain:p.yd,axis:null},
    style:{fontFamily:"DejaVu Sans",background:"transparent",overflow:"visible",maxWidth:"none",color:"#000"},
    marks
  });
  const cell=document.createElement("div");
  cell.className="cell";
  cell.style.left=(LEFT[p.col]-ML)+"px";
  cell.style.top=(TOP[p.row]-MT)+"px";
  cell.appendChild(svg);
  page.appendChild(cell);
}
</script></body></html>
